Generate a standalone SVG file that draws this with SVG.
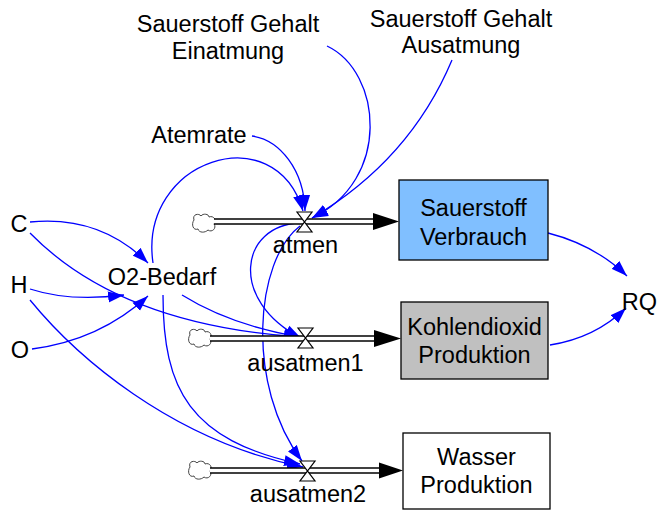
<svg xmlns="http://www.w3.org/2000/svg" width="658" height="511" viewBox="0 0 658 511">
<defs>
<style>
text{font-family:"Liberation Sans",Arial,sans-serif;font-size:23.5px;fill:#000;text-anchor:middle}
.lk{fill:none;stroke:#0000FF;stroke-width:1.3;marker-end:url(#ah)}
.po{fill:none;stroke:#000;stroke-width:6.5}
.pi{fill:none;stroke:#fff;stroke-width:3.5}
.vl{fill:#fff;stroke:#000;stroke-width:1.2}
.cl{fill:#fff;stroke:#444;stroke-width:1}
.bx{stroke:#000;stroke-width:1.3}
</style>
<marker id="ah" markerUnits="userSpaceOnUse" markerWidth="17" markerHeight="12" refX="16" refY="5.5" orient="auto" viewBox="0 0 17 11">
<path d="M0,0 L16,5.5 L0,11 z" fill="#0000FF"/>
</marker>
<path id="cloud" d="M-10,-3 C-12,-9 -5,-10 -3,-7 C-1,-10 5,-9 5,-6 C10,-8 13,-2 10,1 C13,5 8,10 4,7 C1,10 -5,10 -6,6 C-11,8 -13,1 -10,-3 z"/>
</defs>

<g id="connectors">
<path class="lk" d="M327,46 C382,72 392,180 312,218"/>
<path class="lk" d="M452,60 Q410,160 312,218"/>
<path class="lk" d="M252,136 C280,140 304,170 305,211"/>
<path class="lk" d="M153,263 C138,160 275,115 303,211"/>
<path class="lk" d="M300,223 C240,225 228,300 301,338"/>
<path class="lk" d="M182,295 Q230,325 300,337"/>
<path class="lk" d="M30,233 Q120,325 300,337"/>
<path class="lk" d="M300,226 C255,260 245,385 302,461"/>
<path class="lk" d="M30,222 Q100,215 148,263"/>
<path class="lk" d="M30,289 Q70,302 124,295"/>
<path class="lk" d="M32,349 Q100,340 148,296"/>
<path class="lk" d="M30,300 C75,355 170,440 303,467"/>
<path class="lk" d="M163,295 C163,390 190,440 300,464"/>
<path class="lk" d="M548,233 Q595,245 627,276"/>
<path class="lk" d="M550,345 Q595,338 626,308"/>
</g>

<g id="flow-atmen">
<use href="#cloud" x="204" y="223" class="cl"/>
<path class="po" d="M214,221.5 H374"/>
<path class="pi" d="M214,221.5 H374"/>
<polygon points="373,213 399,221.5 373,230" fill="#000"/>
<polygon class="vl" points="297,212 312,212 297,232 312,232"/>
<text x="305.5" y="253">atmen</text>
</g>

<g id="flow-ausatmen1">
<use href="#cloud" x="200" y="338" class="cl"/>
<path class="po" d="M210,338.5 H375"/>
<path class="pi" d="M210,338.5 H375"/>
<polygon points="374,330 401,338.5 374,347" fill="#000"/>
<polygon class="vl" points="298,328 313,328 298,348 313,348"/>
<text x="305.5" y="371">ausatmen1</text>
</g>

<g id="flow-ausatmen2">
<use href="#cloud" x="200" y="470" class="cl"/>
<path class="po" d="M210,470.5 H380"/>
<path class="pi" d="M210,470.5 H380"/>
<polygon points="379,462.5 403,470.5 379,478.5" fill="#000"/>
<polygon class="vl" points="300,461 315,461 300,481 315,481"/>
<text x="308" y="502">ausatmen2</text>
</g>

<g id="stock-sauerstoff">
<rect class="bx" x="399" y="180" width="149" height="80" fill="#80BFFF"/>
<text x="473.5" y="216">Sauerstoff</text>
<text x="473.5" y="245">Verbrauch</text>
</g>

<g id="stock-kohlendioxid">
<rect class="bx" x="401" y="302" width="147" height="77" fill="#C0C0C0"/>
<text x="474.5" y="335">Kohlendioxid</text>
<text x="474.5" y="363">Produktion</text>
</g>

<g id="stock-wasser">
<rect class="bx" x="403" y="433" width="147" height="76" fill="#fff"/>
<text x="476.5" y="465">Wasser</text>
<text x="476.5" y="493">Produktion</text>
</g>

<g id="var-einatmung">
<text x="228" y="32">Sauerstoff Gehalt</text>
<text x="228" y="59">Einatmung</text>
</g>
<g id="var-ausatmung">
<text x="461" y="27">Sauerstoff Gehalt</text>
<text x="461" y="53">Ausatmung</text>
</g>
<g id="var-atemrate"><text x="199" y="143">Atemrate</text></g>
<g id="var-c"><text x="19" y="232">C</text></g>
<g id="var-h"><text x="19" y="293">H</text></g>
<g id="var-o"><text x="20" y="358">O</text></g>
<g id="var-o2bedarf"><text x="162" y="285">O2-Bedarf</text></g>
<g id="var-rq"><text x="657" y="310" style="text-anchor:end">RQ</text></g>
</svg>
